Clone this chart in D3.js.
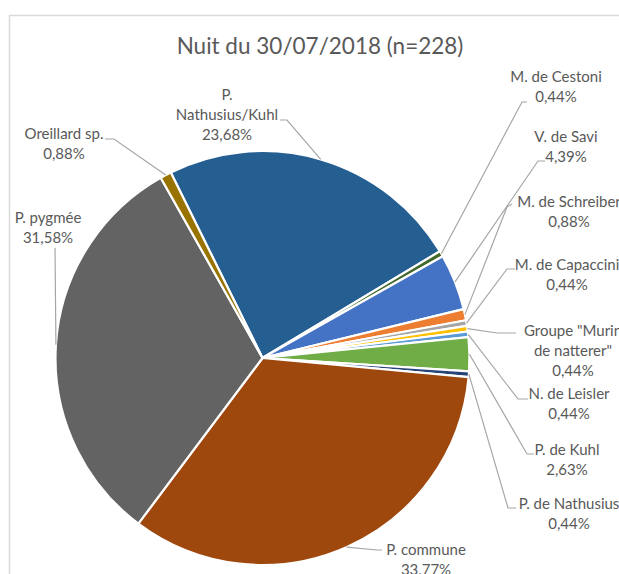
<!DOCTYPE html>
<html>
<head>
<meta charset="utf-8">
<script src="https://cdn.jsdelivr.net/npm/d3@7"></script>
<style>
  html, body { margin: 0; padding: 0; background: #fff; }
  svg { display: block; }
  text { font-family: Lato, "Open Sans", sans-serif; fill: #595959; }
</style>
</head>
<body>
<svg id="chart" width="619" height="574"></svg>
<script>
// Bat contacts recorded during the night of 30/07/2018
const title = "Nuit du 30/07/2018 (n=228)";
const categories = [
  "P. Nathusius/Kuhl", "M. de Cestoni", "V. de Savi", "M. de Schreiber",
  "M. de Capaccini", "Groupe \"Murin de natterer\"", "N. de Leisler", "P. de Kuhl",
  "P. de Nathusius", "P. commune", "P. pygmée", "Oreillard sp."
];
const counts = [54, 1, 10, 2, 1, 1, 1, 6, 1, 77, 72, 2];
const colors = [
  "#255E91", "#43682B", "#4472C4", "#ED7D31",
  "#A5A5A5", "#FFC000", "#5B9BD5", "#70AD47",
  "#264478", "#9E480E", "#636363", "#997300"
];

// Label placement: text centre x, first baseline y, words on the first line,
// and the leader's start point and elbow before it runs to its slice.
const labelLayout = [
  { x: 227, y: 100, wrap: 1, lead: [[280, 120], [287, 120]] },
  { x: 556, y: 82,  wrap: 0, lead: [[527, 102], [522, 102]] },
  { x: 566, y: 142, wrap: 0, lead: [[545, 161], [538, 161]] },
  { x: 569, y: 207, wrap: 0, lead: [[512, 204], [507, 207]] },
  { x: 567, y: 270, wrap: 0, lead: [[515, 269], [507, 269]] },
  { x: 573, y: 336, wrap: 2, lead: [[516, 333], [497, 333]] },
  { x: 569, y: 399, wrap: 0, lead: [[528, 399], [518, 399]] },
  { x: 567, y: 455, wrap: 0, lead: [[534, 454], [527, 454]] },
  { x: 569, y: 509, wrap: 0, lead: [[516, 508], [508, 508]] },
  { x: 426, y: 555, wrap: 0, lead: [[382, 550], [377, 550]] },
  { x: 48,  y: 223, wrap: 0, lead: [[55, 248], [55, 248]] },
  { x: 64,  y: 139, wrap: 0, lead: [[105, 139], [114, 139]] }
];

const cx = 262.5, cy = 358, R = 207;
const startDeg = -26.3;

const svg = d3.select("#chart");

// chart area frame
svg.append("rect")
  .attr("x", 9.5).attr("y", 15.5)
  .attr("width", 800).attr("height", 800)
  .attr("fill", "none")
  .attr("stroke", "#d9d9d9")
  .attr("stroke-width", 1.5);

svg.append("text")
  .attr("x", 320).attr("y", 54)
  .attr("text-anchor", "middle")
  .style("font-size", "22.5px")
  .text(title);

const total = d3.sum(counts);
const data = categories.map((c, i) => ({ name: c, value: counts[i], color: colors[i], layout: labelLayout[i] }));

const start = startDeg * Math.PI / 180;
const pie = d3.pie().sort(null).value(d => d.value)
  .startAngle(start).endAngle(start + 2 * Math.PI);
const arcs = pie(data);

const arc = d3.arc().innerRadius(0).outerRadius(R);

const g = svg.append("g").attr("transform", `translate(${cx},${cy})`);

g.selectAll("path.slice")
  .data(arcs)
  .join("path")
  .attr("class", "slice")
  .attr("d", arc)
  .attr("fill", d => d.data.color)
  .attr("stroke", "#fff")
  .attr("stroke-width", 2.2)
  .attr("stroke-linejoin", "round");

const pct = v => (v / total * 100).toFixed(2).replace(".", ",") + "%";

// leader lines from each label to the middle of its slice's rim
const leaders = svg.append("g")
  .attr("fill", "none")
  .attr("stroke", "#a6a6a6")
  .attr("stroke-width", 1.2);

arcs.forEach(a => {
  const L = a.data.layout;
  const m = (a.startAngle + a.endAngle) / 2;
  const end = [cx + R * Math.sin(m), cy - R * Math.cos(m)];
  leaders.append("path")
    .attr("d", d3.line()([L.lead[0], L.lead[1], end]));
});

// data labels: category name (optionally wrapped) and share of contacts
const labels = svg.append("g").style("font-size", "15px").attr("text-anchor", "middle");
arcs.forEach(a => {
  const L = a.data.layout;
  const words = a.data.name.split(" ");
  const lines = L.wrap > 0
    ? [words.slice(0, L.wrap).join(" "), words.slice(L.wrap).join(" ")]
    : [a.data.name];
  lines.push(pct(a.data.value));
  const t = labels.append("text").attr("x", L.x).attr("y", L.y);
  lines.forEach((s, k) => {
    t.append("tspan").attr("x", L.x).attr("dy", k === 0 ? 0 : 20).text(s);
  });
});
</script>
</body>
</html>
